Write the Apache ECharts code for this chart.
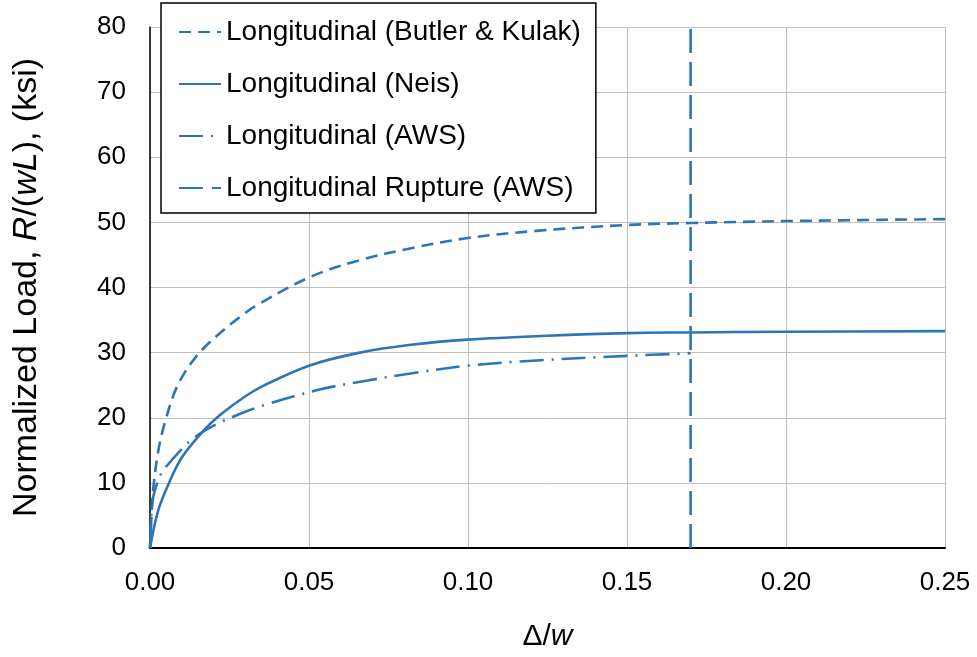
<!DOCTYPE html>
<html lang="en">
<head>
    <meta charset="UTF-8">
    <title>Normalized Load vs Deformation</title>
    <script src="https://cdn.jsdelivr.net/npm/echarts@6/dist/echarts.min.js"></script>
    <style>
        html, body { margin: 0; padding: 0; background: #fff; }
        #chart_main { width: 977px; height: 657px; }
    </style>
</head>
<body>
<div id="chart_main"></div>
<script>
  // data (x = delta/w, y = R/(wL) in ksi)
  var butlerX = [0, 0.0005, 0.001, 0.0026, 0.0047, 0.0079, 0.011, 0.0142, 0.0173, 0.0225, 0.0278, 0.033, 0.0503, 0.066, 0.0818, 0.1, 0.1216, 0.15, 0.17, 0.2, 0.25];
  var butlerY = [0, 5.2, 9.0, 14.9, 19.3, 24.1, 27.0, 29.2, 30.9, 33.2, 35.3, 37.1, 41.6, 44.2, 46.0, 47.6, 48.7, 49.6, 49.9, 50.2, 50.5];

  var neisX = [0, 0.0026, 0.0058, 0.01, 0.0168, 0.0225, 0.03, 0.0356, 0.05, 0.066, 0.082, 0.1, 0.125, 0.15, 0.17, 0.2, 0.25];
  var neisY = [0, 5.8, 9.8, 13.9, 18.0, 20.6, 23.3, 24.9, 28.0, 30.0, 31.2, 32.0, 32.6, 33.0, 33.1, 33.2, 33.3];

  var awsX = [0, 0.0005, 0.001, 0.002, 0.0037, 0.0058, 0.011, 0.0136, 0.0168, 0.0225, 0.0259, 0.0288, 0.0356, 0.053, 0.067, 0.082, 0.1, 0.1216, 0.15, 0.17];
  var awsY = [0, 5.5, 7.8, 9.6, 11.6, 12.9, 15.7, 16.8, 17.9, 19.4, 20.1, 20.7, 21.9, 24.3, 25.6, 26.8, 28.0, 28.8, 29.5, 29.9];

  var ruptureX = [0.17, 0.17];
  var ruptureY = [0, 80];

  var seriesNames = ['Longitudinal (Butler & Kulak)', 'Longitudinal (Neis)', 'Longitudinal (AWS)', 'Longitudinal Rupture (AWS)'];
  var xTicks = [0, 0.05, 0.10, 0.15, 0.20, 0.25];
  var yTicks = [0, 10, 20, 30, 40, 50, 60, 70, 80];

  var blue = '#2e75b6';
  var fontName = 'Liberation Sans, Arial, sans-serif';

  function pairs(xs, ys) {
    var res = [];
    for (var i = 0; i < xs.length; i++) {
      res.push([xs[i], ys[i]]);
    }
    return res;
  }

  function makeLine(name, data, dash, smooth) {
    return {
      name: name,
      type: 'line',
      data: data,
      showSymbol: false,
      symbol: 'none',
      smooth: smooth,
      animation: false,
      lineStyle: { color: blue, width: 2.6, type: dash, cap: 'butt' },
      itemStyle: { color: blue },
      z: 3
    };
  }

  var myChart = echarts.init(document.getElementById('chart_main'));
  var option = {
    backgroundColor: '#fff',
    animation: false,
    grid: { left: 150, right: 32, top: 27, bottom: 106 },
    legend: {
      data: seriesNames,
      orient: 'vertical',
      left: 161,
      top: 3,
      padding: [15, 15, 11, 17],
      itemGap: 24,
      itemWidth: 42,
      itemHeight: 1,
      itemStyle: { opacity: 0, borderWidth: 0 },
      backgroundColor: '#fff',
      borderColor: '#000',
      borderWidth: 1.5,
      textStyle: { fontFamily: fontName, fontSize: 28, color: '#000' }
    },
    xAxis: {
      type: 'value',
      min: xTicks[0],
      max: xTicks[xTicks.length - 1],
      interval: 0.05,
      name: '\u0394/{i|w}',
      nameLocation: 'middle',
      nameGap: 74,
      nameTextStyle: {
        fontFamily: fontName, fontSize: 30, color: '#000',
        rich: { i: { fontFamily: fontName, fontSize: 30, fontStyle: 'italic', color: '#000' } }
      },
      axisLine: { lineStyle: { color: '#000', width: 2 } },
      axisTick: { show: false },
      axisLabel: {
        margin: 22,
        fontFamily: fontName, fontSize: 26, color: '#000',
        formatter: function(v) { return v.toFixed(2); }
      },
      splitLine: { show: true, lineStyle: { color: '#bfbfbf', width: 1 } }
    },
    yAxis: {
      type: 'value',
      min: yTicks[0],
      max: yTicks[yTicks.length - 1],
      interval: 10,
      name: 'Normalized Load, {i|R}/({i|wL}), (ksi)',
      nameLocation: 'middle',
      nameGap: 106,
      nameTextStyle: {
        fontFamily: fontName, fontSize: 34, color: '#000',
        rich: { i: { fontFamily: fontName, fontSize: 34, fontStyle: 'italic', color: '#000' } }
      },
      axisLine: { show: true, lineStyle: { color: '#000', width: 1.5 } },
      axisTick: { show: false },
      axisLabel: { margin: 24, fontFamily: fontName, fontSize: 26, color: '#000' },
      splitLine: { show: true, lineStyle: { color: '#bfbfbf', width: 1 } }
    },
    series: [
      makeLine(seriesNames[0], pairs(butlerX, butlerY), [12, 7], 0.35),
      makeLine(seriesNames[1], pairs(neisX, neisY), 'solid', 0.35),
      makeLine(seriesNames[2], pairs(awsX, awsY), [24, 8, 2, 8], 0.35),
      makeLine(seriesNames[3], pairs(ruptureX, ruptureY), [24, 9], false)
    ]
  };
  myChart.setOption(option);
</script>
</body>
</html>
